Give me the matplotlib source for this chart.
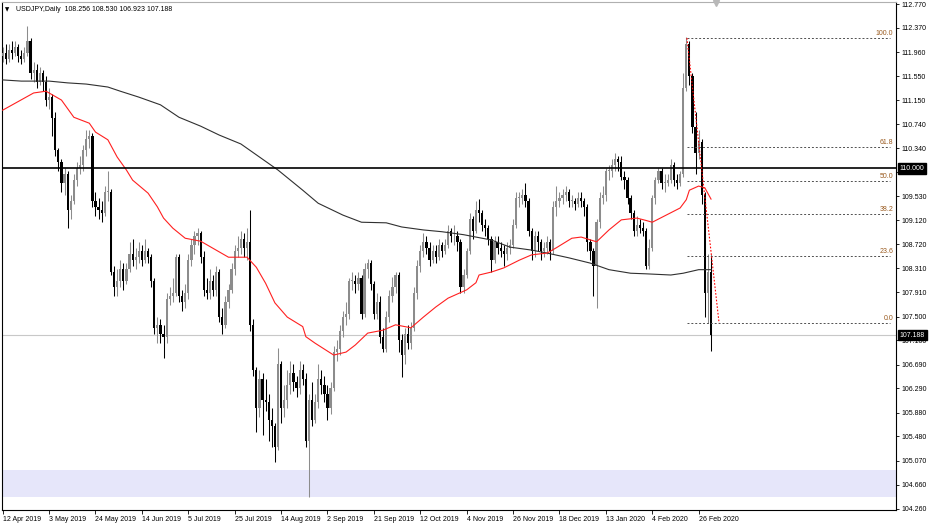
import matplotlib.pyplot as plt
import matplotlib.transforms as mtransforms

plt.rcParams['font.family'] = ['Liberation Sans', 'DejaVu Sans']

# daily USDJPY candles, 12 Apr 2019 .. 3 Mar 2020 (open = previous close)
first_open = 111.90
closes = [
    111.95, 111.85, 112.00, 111.95, 112.05, 111.90, 111.85, 111.95, 112.15, 111.60,
    111.65, 111.45, 111.60, 111.45, 111.15, 111.20, 110.85, 110.30, 110.10, 109.75,
    109.90, 109.30, 109.45, 109.80, 110.00, 110.05, 110.30, 110.50, 110.55, 109.45,
    109.35, 109.30, 109.25, 109.60, 109.60, 108.25, 108.00, 108.10, 108.30, 108.10,
    108.30, 108.55, 108.45, 108.50, 108.60, 108.45, 108.60, 108.50, 108.10, 107.30,
    107.35, 107.20, 107.15, 107.80, 107.85, 107.90, 108.50, 107.85, 107.75, 107.90,
    108.45, 108.70, 108.85, 108.90, 108.50, 107.95, 107.90, 108.10, 107.95, 108.25,
    107.50, 107.35, 107.75, 107.95, 108.30, 108.60, 108.65, 108.80, 108.65, 108.75,
    107.35, 106.60, 105.95, 106.45, 106.10, 106.05, 105.75, 105.65, 105.30, 106.70,
    105.95, 106.10, 106.35, 106.55, 106.40, 106.30, 106.60, 106.45, 105.40, 106.10,
    105.75, 106.05, 106.45, 106.35, 106.20, 105.95, 106.30, 106.90, 106.95, 107.25,
    107.50, 107.55, 108.10, 108.10, 108.05, 108.15, 107.55, 108.30, 108.40, 108.05,
    107.55, 107.75, 107.15, 106.95, 107.50, 107.85, 108.00, 108.20, 107.10, 106.85,
    107.20, 107.05, 107.30, 107.90, 108.35, 108.60, 108.75, 108.65, 108.45, 108.60,
    108.50, 108.70, 108.60, 108.70, 108.95, 108.85, 108.85, 108.75, 108.00, 108.20,
    108.60, 109.15, 108.95, 109.30, 109.25, 109.05, 109.00, 108.80, 108.45, 108.75,
    108.65, 108.60, 108.55, 108.65, 108.70, 109.05, 109.50, 109.50, 109.55, 109.45,
    108.95, 108.60, 108.85, 108.75, 108.60, 108.65, 108.75, 108.60, 109.35, 109.45,
    109.50, 109.55, 109.60, 109.45, 109.45, 109.40, 109.50, 109.45, 109.35, 108.75,
    108.60, 108.35, 109.10, 109.50, 109.55, 109.95, 109.95, 110.05, 110.15, 110.10,
    109.85, 109.80, 109.50, 109.25, 108.95, 109.05, 109.00, 108.95, 108.35, 108.65,
    109.50, 109.80, 109.95, 109.75, 109.75, 109.80, 110.05, 109.80, 109.75, 109.90,
    111.35, 112.10, 111.55, 110.70, 110.25, 110.45, 109.55, 107.90, 108.256, 107.188,
]
highs = [
    112.05, 112.10, 112.10, 112.15, 112.15, 112.10, 112.00, 112.05, 112.40, 112.20,
    111.80, 111.75, 111.70, 111.65, 111.55, 111.35, 111.25, 110.95, 110.35, 110.15,
    110.00, 109.95, 109.55, 109.90, 110.10, 110.20, 110.40, 110.65, 110.65, 110.60,
    109.60, 109.50, 109.45, 109.70, 109.95, 109.65, 108.35, 108.30, 108.45, 108.40,
    108.40, 108.75, 108.80, 108.65, 108.75, 108.70, 108.80, 108.65, 108.55, 108.15,
    107.50, 107.45, 107.35, 107.90, 108.00, 108.15, 108.55, 108.55, 107.95, 108.05,
    108.55, 108.80, 108.95, 109.00, 108.95, 108.60, 108.15, 108.30, 108.20, 108.35,
    108.30, 107.65, 107.85, 108.05, 108.40, 108.70, 108.85, 108.95, 108.90, 109.00,
    109.30, 107.45, 106.65, 106.60, 106.55, 106.45, 106.20, 105.95, 105.70, 106.97,
    106.75, 106.35, 106.60, 106.75, 106.70, 106.50, 106.75, 106.70, 106.55, 106.20,
    106.40, 106.20, 106.70, 106.60, 106.50, 106.35, 106.40, 107.00, 107.10, 107.35,
    107.60, 107.75, 108.15, 108.25, 108.20, 108.25, 108.20, 108.40, 108.47, 108.45,
    108.10, 107.90, 107.85, 107.30, 107.60, 107.95, 108.17, 108.25, 108.25, 107.20,
    107.30, 107.35, 107.40, 108.00, 108.45, 108.70, 108.90, 108.85, 108.75, 108.70,
    108.70, 108.80, 108.75, 108.80, 109.05, 109.00, 109.05, 108.95, 108.80, 108.30,
    108.65, 109.25, 109.20, 109.45, 109.48, 109.30, 109.15, 109.05, 108.85, 108.85,
    108.85, 108.75, 108.70, 108.75, 108.80, 109.15, 109.60, 109.60, 109.65, 109.75,
    109.50, 109.00, 108.95, 108.95, 108.80, 108.75, 108.85, 108.80, 109.45, 109.70,
    109.60, 109.65, 109.70, 109.65, 109.55, 109.50, 109.60, 109.60, 109.50, 109.40,
    108.80, 108.65, 109.15, 109.60, 109.70, 110.00, 110.05, 110.15, 110.26, 110.20,
    110.20, 109.95, 109.85, 109.55, 109.30, 109.20, 109.15, 109.10, 109.00, 108.80,
    109.55, 109.85, 110.00, 110.00, 109.90, 109.90, 110.15, 110.10, 109.90, 109.95,
    111.60, 112.22, 112.15, 111.60, 110.95, 110.65, 110.50, 109.60, 108.55, 108.530,
]
lows = [
    111.80, 111.75, 111.80, 111.85, 111.90, 111.80, 111.75, 111.80, 111.90, 111.50,
    111.45, 111.35, 111.40, 111.30, 111.05, 111.00, 110.55, 110.20, 109.95, 109.60,
    109.55, 109.00, 109.15, 109.40, 109.70, 109.90, 109.95, 110.20, 110.35, 109.35,
    109.20, 109.15, 109.10, 109.20, 109.45, 108.20, 107.85, 107.85, 108.00, 107.95,
    108.05, 108.25, 108.35, 108.30, 108.40, 108.35, 108.40, 108.40, 108.00, 107.20,
    107.05, 107.05, 106.80, 107.05, 107.70, 107.75, 107.85, 107.75, 107.60, 107.65,
    107.80, 108.35, 108.55, 108.70, 108.40, 107.85, 107.80, 107.80, 107.85, 107.85,
    107.40, 107.20, 107.30, 107.65, 107.90, 108.20, 108.50, 108.55, 108.50, 108.45,
    107.25, 106.50, 105.55, 105.80, 105.50, 105.90, 105.40, 105.30, 105.05, 105.25,
    105.70, 105.80, 105.95, 106.20, 106.25, 106.15, 106.20, 106.35, 105.30, 104.45,
    105.65, 105.70, 105.95, 106.20, 106.05, 105.75, 105.85, 106.25, 106.75, 106.85,
    107.15, 107.35, 107.45, 107.95, 107.90, 107.95, 107.45, 107.50, 108.15, 107.95,
    107.45, 107.45, 107.05, 106.90, 106.90, 107.40, 107.75, 107.90, 106.90, 106.48,
    106.70, 106.95, 106.95, 107.25, 107.80, 108.25, 108.50, 108.55, 108.35, 108.40,
    108.40, 108.45, 108.50, 108.55, 108.65, 108.75, 108.70, 108.60, 107.90, 107.90,
    108.15, 108.55, 108.80, 108.90, 109.10, 108.95, 108.85, 108.70, 108.25, 108.40,
    108.55, 108.50, 108.35, 108.45, 108.55, 108.65, 109.00, 109.35, 109.40, 109.35,
    108.85, 108.45, 108.50, 108.60, 108.45, 108.50, 108.55, 108.45, 108.55, 109.20,
    109.35, 109.40, 109.45, 109.35, 109.35, 109.30, 109.35, 109.35, 109.20, 108.60,
    108.45, 107.85, 107.65, 109.00, 109.40, 109.45, 109.80, 109.85, 109.95, 109.95,
    109.80, 109.65, 109.40, 109.15, 108.85, 108.85, 108.90, 108.85, 108.30, 108.30,
    108.60, 109.40, 109.75, 109.65, 109.60, 109.70, 109.75, 109.70, 109.65, 109.70,
    109.85, 111.30, 111.40, 110.60, 109.90, 110.15, 109.40, 107.50, 107.39, 106.923,
]

# moving averages (bar index, price)
ma50_bars = [0, 10, 14, 19, 23, 28, 30, 34, 37, 40, 42, 47, 50, 52, 55, 59, 64, 68, 73,
             77, 79, 82, 85, 88, 92, 97, 98, 101, 107, 111, 114, 118, 123, 127, 132,
             136, 140, 144, 150, 153, 154, 158, 162, 167, 171, 176, 179, 184, 187,
             192, 196, 200, 205, 208, 210, 216, 219, 221, 222, 225, 227, 229]
ma50_vals = [110.98, 111.27, 111.30, 111.15, 110.86, 110.76, 110.61, 110.48, 110.19,
             109.97, 109.80, 109.58, 109.35, 109.16, 108.99, 108.82, 108.77, 108.65,
             108.50, 108.50, 108.50, 108.33, 108.06, 107.73, 107.49, 107.33, 107.16,
             107.05, 106.85, 106.90, 107.02, 107.22, 107.27, 107.36, 107.31, 107.49,
             107.66, 107.81, 107.95, 108.07, 108.20, 108.25, 108.32, 108.45, 108.54,
             108.57, 108.66, 108.82, 108.84, 108.76, 108.96, 109.13, 109.16, 109.12,
             109.09, 109.25, 109.33, 109.47, 109.63, 109.70, 109.67, 109.48]
ma200_bars = [0, 6, 15, 21, 27, 34, 38, 44, 51, 57, 64, 70, 77, 89, 97, 102, 110, 116,
              124, 129, 136, 142, 149, 153, 158, 164, 171, 176, 183, 190, 196, 203,
              208, 216, 220, 225, 229]
ma200_vals = [111.49, 111.47, 111.47, 111.44, 111.42, 111.37, 111.30, 111.20, 111.07,
              110.86, 110.71, 110.56, 110.41, 109.97, 109.63, 109.41, 109.21, 109.09,
              109.08, 109.01, 108.96, 108.93, 108.88, 108.84, 108.79, 108.67, 108.62,
              108.57, 108.49, 108.40, 108.29, 108.23, 108.22, 108.20, 108.23, 108.29,
              108.29]

date_labels = ['12 Apr 2019', '3 May 2019', '24 May 2019', '14 Jun 2019', '5 Jul 2019',
               '25 Jul 2019', '14 Aug 2019', '2 Sep 2019', '21 Sep 2019', '12 Oct 2019',
               '4 Nov 2019', '26 Nov 2019', '18 Dec 2019', '13 Jan 2020', '4 Feb 2020',
               '26 Feb 2020']
price_ticks = [112.770, 112.370, 111.960, 111.550, 111.150, 110.740, 110.340, 109.930,
               109.530, 109.120, 108.720, 108.310, 107.910, 107.500, 107.100, 106.690,
               106.290, 105.880, 105.480, 105.070, 104.660, 104.260]

fib_levels = [100.0, 61.8, 50.0, 38.2, 23.6, 0.0]
fib_high, fib_low = 112.197, 107.390
fib_start, fib_end = 221.2, 231.6
round_level = 110.000
zone = (104.45, 104.91)

# ---- figure
W, H = 930, 525
fig = plt.figure(figsize=(W / 100, H / 100), dpi=100)
ax = fig.add_axes([1.5 / W, 15 / H, (896 - 1.5) / W, 508 / H])
ax.set_xlim(-0.39, 288.8)
ax.set_ylim(104.237, 112.804)

n = len(closes)
idx = list(range(n))
opens = [first_open] + closes[:-1]
cols = ['#8c8c8c' if c >= o else 'black' for o, c in zip(opens, closes)]

ax.axhspan(zone[0], zone[1], color='#e6e6fa', lw=0, zorder=0)
ax.axhline(closes[-1], color='#c8c8c8', lw=0.8, zorder=1)

ax.vlines(idx, lows, highs, colors=cols, lw=0.75, zorder=3)
bottoms = [min(o, c) for o, c in zip(opens, closes)]
heights = [max(abs(c - o), 0.015) for o, c in zip(opens, closes)]
ax.bar(idx, heights, bottom=bottoms, width=0.72, color=cols, lw=0, zorder=3)

ax.plot(ma200_bars, ma200_vals, color='#303030', lw=0.8, zorder=4)
ax.plot(ma50_bars, ma50_vals, color='#ff2020', lw=0.8, zorder=4)
ax.axhline(round_level, color='black', lw=1.2, zorder=5)

# fibonacci retracement
xmax = ax.get_xlim()[1]
for lvl in fib_levels:
    p = fib_low + lvl / 100 * (fib_high - fib_low)
    ax.plot([fib_start, xmax - 1.8], [p, p], color='#505050', lw=0.7,
            ls=(0, (2, 2)), zorder=5)
    ax.text(xmax - 0.9, p + 0.015, f'{lvl:.1f}', ha='right', va='bottom',
            fontsize=5, color='#9a5a1e', zorder=6)
ax.plot([fib_start, fib_end], [fib_high, fib_low], color='red', lw=0.8,
        ls=(0, (1.5, 1.5)), zorder=6)

# axes styling
for s in ax.spines.values():
    s.set_color('black')
    s.set_linewidth(0.8)
ax.spines['top'].set_color('#b0b0b0')
ax.yaxis.tick_right()
ax.set_yticks(price_ticks)
ax.set_yticklabels([f'{p:.3f}' for p in price_ticks])
ax.tick_params(axis='y', length=2.5, width=0.6, pad=1.2, labelsize=5)
ax.set_xticks(list(range(0, 15 * len(date_labels), 15)))
ax.set_xticklabels(date_labels, ha='left')
ax.tick_params(axis='x', length=3, width=0.6, pad=1.5, labelsize=5)

# price boxes on the axis
trans = mtransforms.blended_transform_factory(ax.transAxes, ax.transData)
for p, txt in [(round_level, '110.000'), (closes[-1], f'{closes[-1]:.3f}')]:
    ax.text(1.004, p, txt, transform=trans, ha='left', va='center', fontsize=5,
            color='white', clip_on=False, zorder=10,
            bbox=dict(boxstyle='square,pad=0.25', fc='black', ec='black'))

# header and chart-shift marker
ax.text(0.004, 0.985, '\u25bc', transform=ax.transAxes, fontsize=4, va='center',
        family=['DejaVu Sans'])
ax.text(0.016, 0.985, 'USDJPY,Daily  108.256 108.530 106.923 107.188',
        transform=ax.transAxes, fontsize=5, va='center')
ax.plot([230.6], [ax.get_ylim()[1] - 0.02], marker='v', ms=4, color='#b8b8b8',
        clip_on=False, zorder=7)

fig.savefig('out.png', dpi=100)
